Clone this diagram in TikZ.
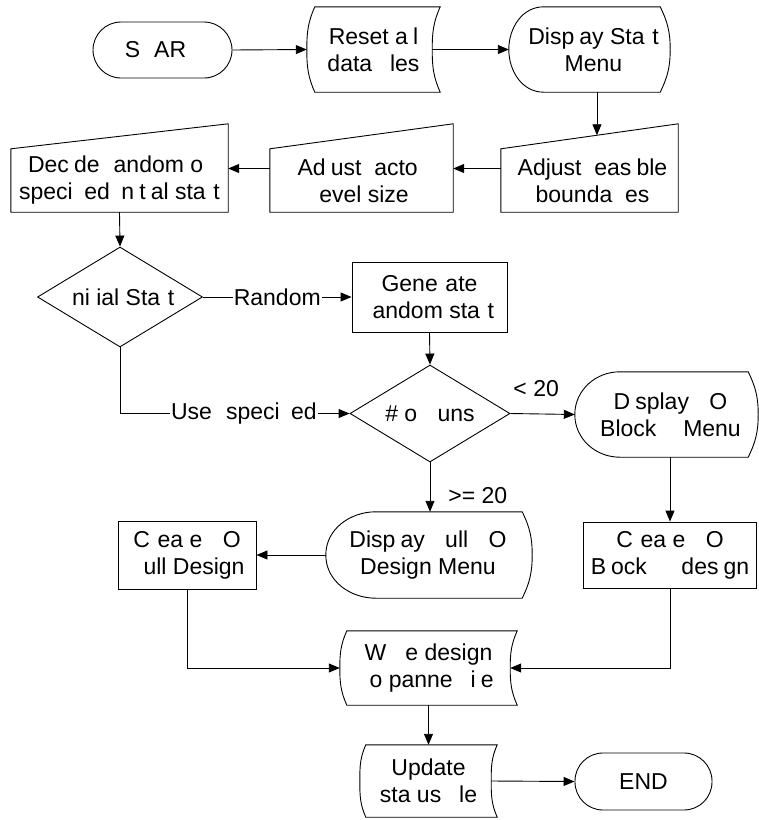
\documentclass[tikz,border=0pt]{standalone}
\usepackage{fontspec}
\setmainfont{Liberation Sans}
\usetikzlibrary{shapes.geometric,arrows.meta,calc}

\tikzset{
  outline/.style={draw=black, line width=0.9pt},
  arr/.style={draw=black, line width=0.9pt, -{Triangle[length=11pt,width=9pt]}},
  txt/.style={font=\fontsize{23}{27}\selectfont, align=center, inner sep=0pt},
  box/.style={txt, draw=none},
  procbox/.style={txt, draw, line width=0.9pt, rectangle},
  termbox/.style={txt, draw, line width=0.9pt, rectangle, rounded corners=28pt},
  decbox/.style={txt, draw, line width=0.9pt, diamond, aspect=1.65},
  edgelabel/.style={txt, fill=white, inner sep=1pt},
}

% stored-data outline: both sides bow to the left
\newcommand\storedoutline[2]{%
  \draw[outline] ([xshift=#2]#1.north west) -- (#1.north east)
    to[out=246,in=90] ([xshift=-#2]#1.east)
    to[out=-90,in=114] (#1.south east)
    -- ([xshift=#2]#1.south west)
    to[out=114,in=-90] (#1.west)
    to[out=90,in=246] ([xshift=#2]#1.north west) -- cycle;}

% display outline: rounded left end, pointed right end
\newcommand\displayoutline[3]{%
  \draw[outline] (#1.west) to[out=90,in=180] ([xshift=#2]#1.north west)
    -- ([xshift=-#3]#1.north east) to[out=-64,in=90] (#1.east)
    to[out=-90,in=64] ([xshift=-#3]#1.south east)
    -- ([xshift=#2]#1.south west) to[out=180,in=-90] (#1.west) -- cycle;}

% manual-input outline: slanted top rising to the right
\newcommand\manualoutline[2]{%
  \draw[outline] (#1.south west) -- (#1.north west)
    -- ([yshift=#2]#1.north east) -- (#1.south east) -- cycle;}

\begin{document}
\begin{tikzpicture}[x=1pt,y=1pt]
\fill[white] (0,0) rectangle (759,-820);
\useasboundingbox (0,0) rectangle (759,-820);

% top row
\node[termbox, minimum width=139pt, minimum height=56pt] (start) at (162.5,-50) {S\phantom{T}AR\phantom{T}};
\node[box, minimum width=133pt, minimum height=85pt] (reset) at (373.5,-49.5) {Reset a\phantom{l}l\\data \phantom{fi}les};
\storedoutline{reset}{8pt}
\node[box, minimum width=161pt, minimum height=85pt] (dispstart) at (589.5,-49.5) {};
\displayoutline{dispstart}{35pt}{10pt}
\node[txt] (dispstart-text) at ([xshift=4pt]dispstart.center) {Disp\phantom{l}ay Sta\phantom{r}t\\Menu};

% second row
\node[box, minimum width=177pt, minimum height=63pt] (adjfeas) at (589.5,-180.5) {};
\manualoutline{adjfeas}{25pt}
\node[txt] (adjfeas-text) at ([xshift=3pt]adjfeas.center) {Adjust \phantom{f}eas\phantom{i}ble\\bounda\phantom{ri}es};
\node[box, minimum width=183pt, minimum height=63pt] (adjfact) at (361.5,-180.5) {Ad\phantom{j}ust \phantom{f}acto\phantom{r}\\\phantom{l}evel size};
\manualoutline{adjfact}{25pt}
\node[box, minimum width=217pt, minimum height=63pt] (decide) at (119.5,-180.5) {Dec\phantom{i}de \phantom{r}andom o\phantom{r}\\speci\phantom{fi}ed \phantom{i}n\phantom{i}t\phantom{i}al sta\phantom{r}t};
\manualoutline{decide}{25pt}

% decisions
\node[decbox, minimum width=165pt, minimum height=100pt] (initial) at (120,-297) {\phantom{I}ni\phantom{t}ial Sta\phantom{r}t};
\node[procbox, minimum width=155pt, minimum height=70pt] (generate) at (429.5,-297) {Gene\phantom{r}ate\\\phantom{r}andom sta\phantom{r}t};
\node[decbox, minimum width=160pt, minimum height=97pt] (runs) at (430,-413.5) {\# o\phantom{f} \phantom{r}uns};
\node[box, minimum width=183pt, minimum height=85pt] (dispblock) at (666.5,-414.5) {};
\displayoutline{dispblock}{45pt}{10pt}
\node[txt] (dispblock-text) at ([xshift=4pt]dispblock.center) {D\phantom{i}splay \phantom{F}O\\Block \phantom{F} Menu};

% design row
\node[box, minimum width=206pt, minimum height=86pt] (dispfull) at (429,-555) {};
\displayoutline{dispfull}{50pt}{10pt}
\node[txt] (dispfull-text) at ([xshift=-1pt]dispfull.center) {Disp\phantom{l}ay \phantom{F}ull \phantom{F}O\\Design Menu};
\node[procbox, minimum width=138pt, minimum height=68pt] (createfull) at (187,-555) {C\phantom{r}ea\phantom{t}e \phantom{F}O\\\phantom{F}ull Design};
\node[procbox, minimum width=173pt, minimum height=66pt] (createblock) at (670,-555) {C\phantom{r}ea\phantom{t}e \phantom{F}O\\B\phantom{l}ock \phantom{FF}des\phantom{i}gn};

% output
\node[box, minimum width=177pt, minimum height=74pt] (write) at (428.5,-668) {W\phantom{rit}e design\\\phantom{t}o panne\phantom{l} \phantom{f}i\phantom{l}e};
\storedoutline{write}{7pt}
\node[box, minimum width=137pt, minimum height=72pt] (update) at (428.5,-781) {Update\\sta\phantom{t}us \phantom{fi}le};
\storedoutline{update}{6pt}
\node[termbox, minimum width=137pt, minimum height=57pt] (end) at (643.5,-781.5) {END};

% connectors
\draw[arr] (start.east) -- (reset.west);
\draw[arr] ([xshift=-8pt]reset.east) -- (dispstart.west);
\coordinate (fatop) at ($(adjfeas.north west)!0.542!([yshift=25pt]adjfeas.north east)$);
\draw[arr] (dispstart.south -| fatop) -- (fatop);
\draw[arr] ([yshift=12pt]adjfeas.west) -- ([yshift=12pt]adjfact.east);
\draw[arr] ([yshift=12pt]adjfact.west) -- ([yshift=12pt]decide.east);
\draw[arr] (decide.south) -- (initial.north);
\draw[arr] (initial.east) -- node[edgelabel] {Random} (generate.west);
\draw[arr] (generate.south) -- (runs.north);
\draw[arr] (initial.south) |- node[edgelabel, pos=0.77] {Use \phantom{r}speci\phantom{fi}ed} (runs.west);
\draw[arr] (runs.east) -- node[txt, above=17pt, pos=0.4] {< 20} (dispblock.west);
\draw[arr] (createblock.north |- dispblock.south) -- (createblock.north);
\draw[arr] (runs.south) -- node[txt, right=18pt, pos=0.68] {>= 20} (runs.south |- dispfull.north);
\draw[arr] (dispfull.west) -- (createfull.east);
\draw[arr] (createfull.south) |- (write.west);
\draw[arr] (createblock.south) |- ([xshift=-7pt]write.east);
\draw[arr] (write.south) -- (update.north);
\draw[arr] ([xshift=-6pt]update.east) -- (end.west);
\end{tikzpicture}
\end{document}
